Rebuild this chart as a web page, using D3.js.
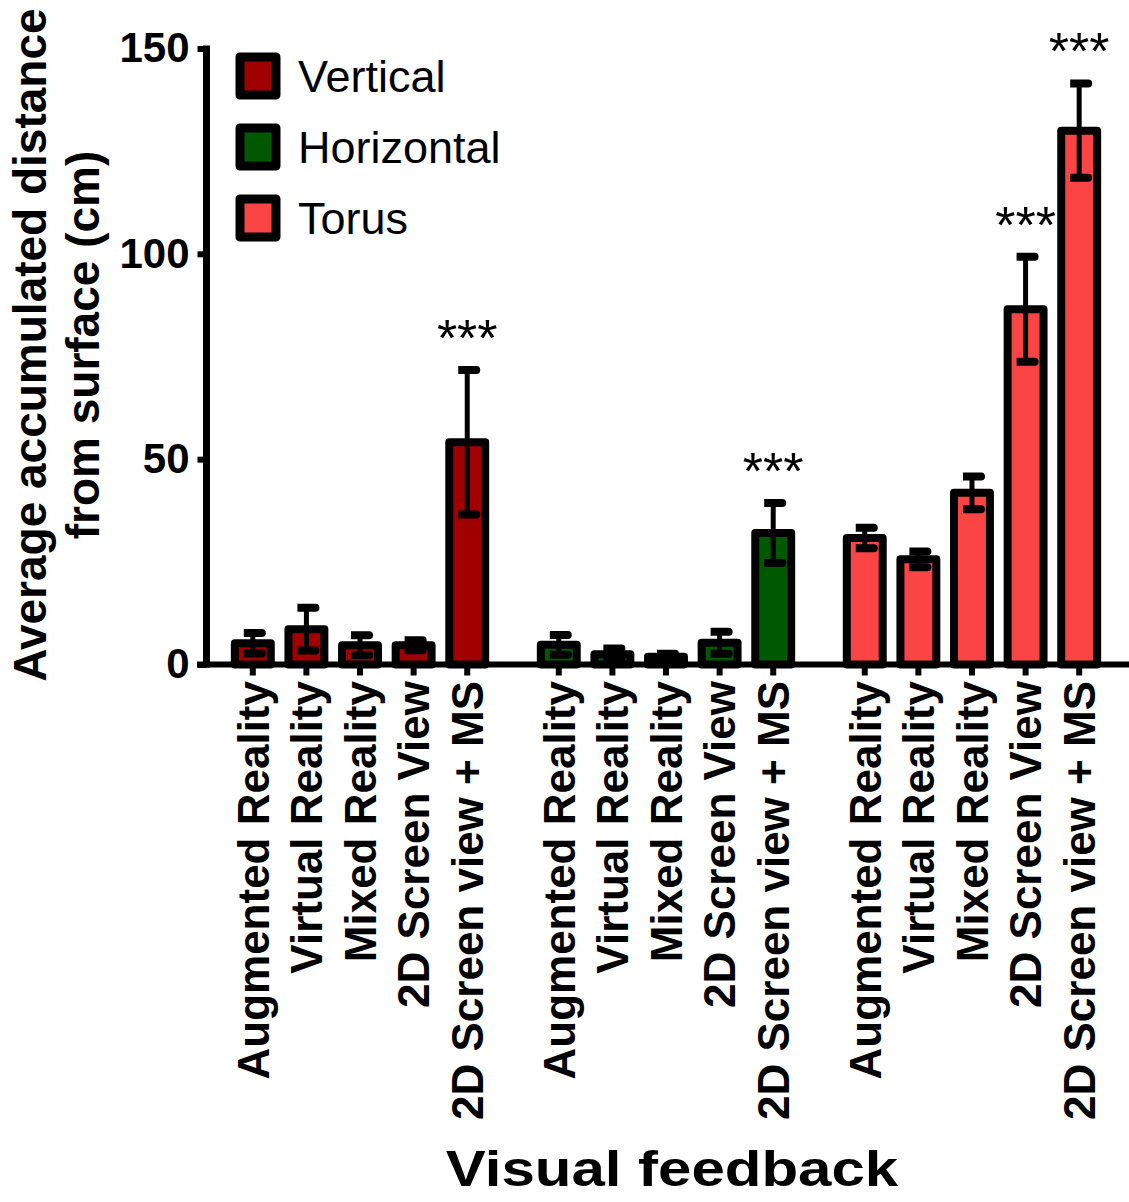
<!DOCTYPE html>
<html>
<head>
<meta charset="utf-8">
<script src="https://cdn.jsdelivr.net/npm/d3@7"></script>
<style>
  html, body { margin: 0; padding: 0; background: #fff; }
  svg { display: block; font-family: "Liberation Sans", Arial, sans-serif; }
</style>
</head>
<body>
<svg id="chart" width="1129" height="1202"></svg>
<script>
// ---- data ----
const groups = ["Vertical", "Horizontal", "Torus"];
const categories = ["Augmented Reality", "Virtual Reality", "Mixed Reality", "2D Screen View", "2D Screen view + MS"];
const verticalMeans = [5.2, 8.6, 4.7, 4.7, 54.1];
const verticalErrors = [2.5, 5.2, 2.4, 1.2, 17.6];
const horizontalMeans = [4.8, 2.5, 1.9, 5.3, 32.0];
const horizontalErrors = [2.4, 1.4, 0.7, 2.7, 7.3];
const torusMeans = [30.8, 25.6, 41.8, 86.5, 130.0];
const torusErrors = [2.5, 1.9, 4.0, 12.8, 11.5];
const verticalSig = ["", "", "", "", "***"];
const horizontalSig = ["", "", "", "", "***"];
const torusSig = ["", "", "", "***", "***"];
const yTicks = [0, 50, 100, 150];
const colors = ["#a00000", "#005800", "#fb4444"];
const yTitleLines = ["Average accumulated distance", "from surface (cm)"];
const xTitle = "Visual feedback";

const means = [verticalMeans, horizontalMeans, torusMeans];
const errors = [verticalErrors, horizontalErrors, torusErrors];
const sigs = [verticalSig, horizontalSig, torusSig];

const data = [];
groups.forEach((g, gi) => categories.forEach((c, ci) => {
  data.push({ group: g, gi, cat: c, mean: means[gi][ci], err: errors[gi][ci], sig: sigs[gi][ci] });
}));

// ---- layout ----
const svg = d3.select("#chart");
const y = d3.scaleLinear().domain([0, 150]).range([664.5, 48.5]);
const xGroup = d3.scaleBand().domain(groups).range([226, 1106]).paddingInner(0.124).paddingOuter(0);
const xCat = d3.scaleBand().domain(categories).range([0, xGroup.bandwidth()]).paddingInner(0.33).paddingOuter(0.165);
const cx = d => xGroup(d.group) + xCat(d.cat) + xCat.bandwidth() / 2;

// ---- bars ----
svg.append("g").selectAll("rect").data(data).join("rect")
  .attr("x", d => xGroup(d.group) + xCat(d.cat))
  .attr("width", xCat.bandwidth())
  .attr("y", d => y(d.mean))
  .attr("height", d => y(0) - y(d.mean))
  .attr("fill", d => colors[d.gi])
  .attr("stroke", "#000")
  .attr("stroke-width", 8)
  .attr("stroke-linejoin", "round");

// ---- error bars ----
const eg = svg.append("g");
eg.selectAll("line").data(data).join("line")
  .attr("x1", cx).attr("x2", cx)
  .attr("y1", d => y(d.mean + d.err))
  .attr("y2", d => y(Math.max(0, d.mean - d.err)))
  .attr("stroke", "#000").attr("stroke-width", 5);
const capPath = (x, yy) => `M${x - 9},${yy - 4}H${x + 9}A4,4 0 0 1 ${x + 9},${yy + 4}H${x - 9}Z`;
eg.selectAll("path.capTop").data(data).join("path").attr("class", "capTop")
  .attr("d", d => capPath(cx(d), y(d.mean + d.err))).attr("fill", "#000");
eg.selectAll("path.capBot").data(data).join("path").attr("class", "capBot")
  .attr("d", d => capPath(cx(d), y(Math.max(0, d.mean - d.err)))).attr("fill", "#000");

// ---- significance stars ----
svg.append("g").selectAll("text").data(data.filter(d => d.sig)).join("text")
  .attr("x", cx)
  .attr("y", d => y(d.mean + d.err) - 14)
  .attr("text-anchor", "middle")
  .attr("font-size", 52)
  .text(d => d.sig);

// ---- y axis ----
const yAxis = svg.append("g").attr("transform", "translate(206.5,0)")
  .call(d3.axisLeft(y).tickValues(yTicks).tickSize(9).tickPadding(8).tickSizeOuter(0));
yAxis.select(".domain").attr("stroke", "#000").attr("stroke-width", 7)
  .attr("d", `M0,${y(150) - 3}V${y(0) + 3}`);
yAxis.selectAll(".tick line").attr("stroke", "#000").attr("stroke-width", 6);
yAxis.selectAll(".tick text").attr("font-size", 42).attr("font-weight", "bold")
  .attr("fill", "#000").attr("font-family", "Liberation Sans, Arial, sans-serif");

// ---- x axis ----
svg.append("line").attr("x1", 197).attr("x2", 1129).attr("y1", y(0)).attr("y2", y(0))
  .attr("stroke", "#000").attr("stroke-width", 6);
svg.append("g").selectAll("line").data(data).join("line")
  .attr("x1", cx).attr("x2", cx).attr("y1", y(0)).attr("y2", y(0) + 11)
  .attr("stroke", "#000").attr("stroke-width", 6);
svg.append("g").selectAll("text").data(data).join("text")
  .attr("transform", d => `translate(${cx(d)},681) rotate(-90)`)
  .attr("dy", "0.36em")
  .attr("text-anchor", "end")
  .attr("font-size", 44)
  .attr("font-weight", "bold")
  .text(d => d.cat);

// ---- axis titles ----
const yt = svg.append("text")
  .attr("transform", "translate(0,345) rotate(-90)")
  .attr("text-anchor", "middle")
  .attr("font-size", 46).attr("font-weight", "bold");
yTitleLines.forEach((t, i) => yt.append("tspan").attr("x", 0).attr("y", i === 0 ? 46 : 99).text(t));

svg.append("text")
  .attr("transform", "translate(672,1186) scale(1.2,1)")
  .attr("text-anchor", "middle")
  .attr("font-size", 50).attr("font-weight", "bold")
  .text(xTitle);

// ---- legend ----
const legend = svg.append("g").selectAll("g").data(groups).join("g")
  .attr("transform", (d, i) => `translate(258,${76 + i * 71})`);
legend.append("rect")
  .attr("x", -18).attr("y", -19).attr("width", 36).attr("height", 38)
  .attr("fill", (d, i) => colors[i]).attr("stroke", "#000")
  .attr("stroke-width", 9).attr("stroke-linejoin", "round");
legend.append("text")
  .attr("x", 40).attr("y", 16)
  .attr("font-size", 45)
  .text(d => d);
</script>
</body>
</html>
